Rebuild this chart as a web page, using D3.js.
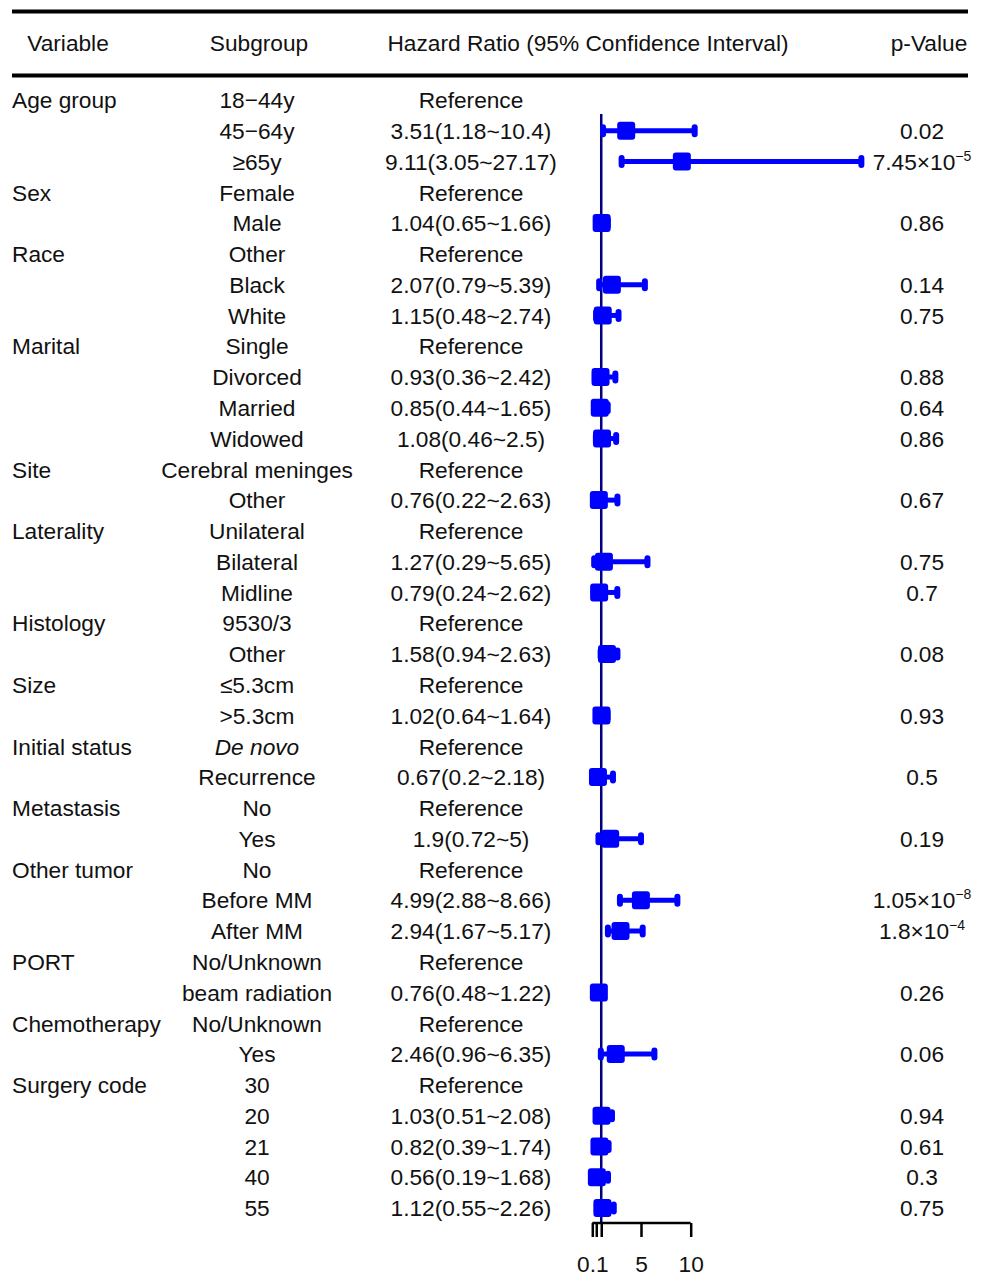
<!DOCTYPE html>
<html>
<head>
<meta charset="utf-8">
<script src="https://cdn.jsdelivr.net/npm/d3@7"></script>
<style>
  body { margin: 0; background: #fff; }
  svg text { font-family: "Liberation Sans", Arial, sans-serif; fill: #111; }
</style>
</head>
<body>
<div id="chart"></div>
<script>
// row data
const variables = ["Age group", "", "", "Sex", "", "Race", "", "", "Marital", "", "", "",
  "Site", "", "Laterality", "", "", "Histology", "", "Size", "", "Initial status", "",
  "Metastasis", "", "Other tumor", "", "", "PORT", "", "Chemotherapy", "", "Surgery code", "", "", "", ""];
const subgroups = ["18−44y", "45−64y", "≥65y", "Female", "Male", "Other", "Black", "White",
  "Single", "Divorced", "Married", "Widowed", "Cerebral meninges", "Other", "Unilateral",
  "Bilateral", "Midline", "9530/3", "Other", "≤5.3cm", ">5.3cm", "De novo", "Recurrence",
  "No", "Yes", "No", "Before MM", "After MM", "No/Unknown", "beam radiation", "No/Unknown",
  "Yes", "30", "20", "21", "40", "55"];
// null = reference level
const hr =    [null, 3.51, 9.11, null, 1.04, null, 2.07, 1.15, null, 0.93, 0.85, 1.08, null, 0.76, null, 1.27, 0.79, null, 1.58, null, 1.02, null, 0.67, null, 1.9, null, 4.99, 2.94, null, 0.76, null, 2.46, null, 1.03, 0.82, 0.56, 1.12];
const lower = [null, 1.18, 3.05, null, 0.65, null, 0.79, 0.48, null, 0.36, 0.44, 0.46, null, 0.22, null, 0.29, 0.24, null, 0.94, null, 0.64, null, 0.2, null, 0.72, null, 2.88, 1.67, null, 0.48, null, 0.96, null, 0.51, 0.39, 0.19, 0.55];
const upper = [null, 10.4, 27.17, null, 1.66, null, 5.39, 2.74, null, 2.42, 1.65, 2.5, null, 2.63, null, 5.65, 2.62, null, 2.63, null, 1.64, null, 2.18, null, 5, null, 8.66, 5.17, null, 1.22, null, 6.35, null, 2.08, 1.74, 1.68, 2.26];
// p-values as [mantissa, exponent]; exponent null = plain number
const pvalues = [null, ["0.02", null], ["7.45×10", "−5"], null, ["0.86", null], null, ["0.14", null], ["0.75", null],
  null, ["0.88", null], ["0.64", null], ["0.86", null], null, ["0.67", null], null, ["0.75", null], ["0.7", null],
  null, ["0.08", null], null, ["0.93", null], null, ["0.5", null], null, ["0.19", null], null,
  ["1.05×10", "−8"], ["1.8×10", "−4"], null, ["0.26", null], null, ["0.06", null], null,
  ["0.94", null], ["0.61", null], ["0.3", null], ["0.75", null]];
const headers = ["Variable", "Subgroup", "Hazard Ratio (95% Confidence Interval)", "p-Value"];
const axisTicks = [0.1, 0.5, 1, 5, 10];
const axisLabels = {0.1: "0.1", 5: "5", 10: "10"};

const width = 981, height = 1283;
const fs = 22.7;
const blue = "#0000ff", navy = "#00007f";

const svg = d3.select("#chart").append("svg")
    .attr("width", width)
    .attr("height", height);

const rows = d3.range(subgroups.length);
const y = d3.scalePoint().domain(rows).range([100, 1208]);
const x = d3.scaleLinear().domain([0, 10]).range([591.3, 690.7]);

// rules
svg.append("line").attr("x1", 12).attr("x2", 968).attr("y1", 11.5).attr("y2", 11.5)
    .attr("stroke", "#000").attr("stroke-width", 4);
svg.append("line").attr("x1", 12).attr("x2", 968).attr("y1", 75.5).attr("y2", 75.5)
    .attr("stroke", "#000").attr("stroke-width", 4);

// header
const headX = [68, 259, 588, 929];
svg.selectAll("text.head").data(headers).join("text")
    .attr("class", "head")
    .attr("x", (d, i) => headX[i])
    .attr("y", 51)
    .attr("text-anchor", "middle")
    .attr("font-size", fs)
    .text(d => d);

// table text
const dy = "0.36em";
svg.selectAll("text.var").data(rows.filter(i => variables[i])).join("text")
    .attr("class", "var")
    .attr("x", 12).attr("y", i => y(i)).attr("dy", dy)
    .attr("font-size", fs)
    .text(i => variables[i]);

svg.selectAll("text.sub").data(rows).join("text")
    .attr("class", "sub")
    .attr("x", 257).attr("y", i => y(i)).attr("dy", dy)
    .attr("text-anchor", "middle")
    .attr("font-size", fs)
    .attr("font-style", i => subgroups[i] === "De novo" ? "italic" : null)
    .text(i => subgroups[i]);

svg.selectAll("text.hr").data(rows).join("text")
    .attr("class", "hr")
    .attr("x", 471).attr("y", i => y(i)).attr("dy", dy)
    .attr("text-anchor", "middle")
    .attr("font-size", fs)
    .text(i => hr[i] == null ? "Reference" : `${hr[i]}(${lower[i]}~${upper[i]})`);

const pText = svg.selectAll("text.p").data(rows.filter(i => pvalues[i])).join("text")
    .attr("class", "p")
    .attr("x", 922).attr("y", i => y(i)).attr("dy", dy)
    .attr("text-anchor", "middle")
    .attr("font-size", fs);
pText.append("tspan").text(i => pvalues[i][0]);
pText.filter(i => pvalues[i][1]).append("tspan")
    .attr("font-size", 14)
    .attr("dy", -9)
    .text(i => pvalues[i][1]);

// reference line at HR = 1
svg.append("line")
    .attr("x1", x(1)).attr("x2", x(1))
    .attr("y1", 114).attr("y2", 1223)
    .attr("stroke", navy).attr("stroke-width", 2.5);

// confidence intervals
const est = rows.filter(i => hr[i] != null);
const g = svg.append("g");
g.selectAll("line.ci").data(est).join("line")
    .attr("class", "ci")
    .attr("x1", i => x(lower[i])).attr("x2", i => x(upper[i]))
    .attr("y1", i => y(i)).attr("y2", i => y(i))
    .attr("stroke", blue).attr("stroke-width", 5);
["lo", "hi"].forEach(k => {
  g.selectAll("rect.cap" + k).data(est).join("rect")
      .attr("class", "cap" + k)
      .attr("x", i => x(k === "lo" ? lower[i] : upper[i]) - 3)
      .attr("y", i => y(i) - 6.5)
      .attr("width", 6).attr("height", 13)
      .attr("rx", 3)
      .attr("fill", blue);
});
g.selectAll("rect.box").data(est).join("rect")
    .attr("class", "box")
    .attr("x", i => x(hr[i]) - 9)
    .attr("y", i => y(i) - 9)
    .attr("width", 18).attr("height", 18)
    .attr("rx", 3)
    .attr("fill", blue);

// axis
const axis = svg.append("g")
    .attr("transform", "translate(0,1223)")
    .call(d3.axisBottom(x).tickValues(axisTicks).tickSize(14).tickSizeOuter(0)
      .tickFormat(d => axisLabels[d] || ""));
axis.select(".domain").attr("stroke", "#000").attr("stroke-width", 2.5)
    .attr("d", `M${x(0.1)},0H${x(10)}`);
axis.selectAll(".tick line").attr("stroke", "#000").attr("stroke-width", 2.5);
axis.selectAll(".tick text")
    .attr("font-size", fs)
    .attr("font-family", "Liberation Sans, Arial, sans-serif")
    .attr("fill", "#111")
    .attr("y", 33)
    .attr("dy", "0.71em");
</script>
</body>
</html>
